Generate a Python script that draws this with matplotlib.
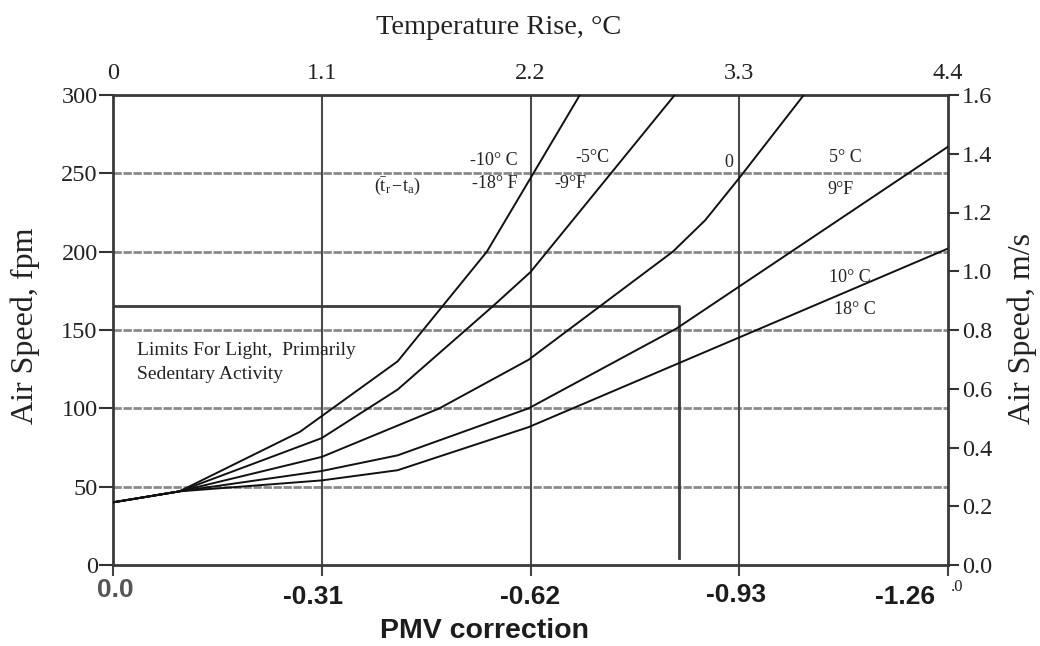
import matplotlib
matplotlib.use("Agg")
import matplotlib.pyplot as plt
from matplotlib.transforms import blended_transform_factory, ScaledTranslation

# ---- data -------------------------------------------------------------
temp_ticks = [0, 1.1, 2.2, 3.3, 4.4]                 # temperature rise, deg C
temp_tick_labels = ["0", "1.1", "2.2", "3.3", "4.4"]
pmv_labels = ["0.0", "-0.31", "-0.62", "-0.93", "-1.26"]
fpm_ticks = [0, 50, 100, 150, 200, 250, 300]
ms_ticks = [0.0, 0.2, 0.4, 0.6, 0.8, 1.0, 1.2, 1.4, 1.6]

# air speed (fpm) needed for each radiant/air temperature difference
t_m10 = [0, 0.35, 0.985, 1.5, 1.97, 2.46]
v_m10 = [40, 47, 85, 130, 200, 300]
t_m5 = [0, 0.35, 1.1, 1.5, 2.0, 2.2, 2.96]
v_m5 = [40, 47, 81, 112, 165, 187, 300]
t_0 = [0, 0.35, 1.1, 1.72, 2.19, 2.95, 3.12, 3.3, 3.64]
v_0 = [40, 47, 69, 100, 131, 200, 220, 247, 300]
t_p5 = [0, 0.35, 1.1, 1.5, 2.19, 2.97, 4.4]
v_p5 = [40, 47, 60, 70, 100, 151, 267]
t_p10 = [0, 0.35, 1.1, 1.5, 2.19, 4.4]
v_p10 = [40, 47, 54, 60.5, 88, 202]

limit_temp = 2.98      # deg C
limit_fpm = 165
limit_floor = 4.5

# ---- style ------------------------------------------------------------
SERIF = ["Liberation Serif", "DejaVu Serif"]
SANS = ["Liberation Sans", "DejaVu Sans"]
plt.rcParams["font.family"] = SERIF
plt.rcParams["mathtext.fontset"] = "custom"
plt.rcParams["mathtext.rm"] = "Liberation Serif"
plt.rcParams["mathtext.it"] = "Liberation Serif:italic"
TXT = "#222222"

W, H = 1040, 646
fig = plt.figure(figsize=(W / 100, H / 100), dpi=100)
ax = fig.add_axes([113 / W, 1 - 565 / H, (948 - 113) / W, (565 - 95) / H])
ax.set_xlim(temp_ticks[0], temp_ticks[-1])
ax.set_ylim(fpm_ticks[0], fpm_ticks[-1])

# grid
for v in fpm_ticks[1:-1]:
    ax.axhline(v, color="#8a8a8a", lw=2.0, ls=(0, (3, 0.6)), zorder=1)
for t in temp_ticks[1:-1]:
    ax.axvline(t, color="#4a4a4a", lw=1.5, zorder=1)

# curves
for tt, vv in [(t_m10, v_m10), (t_m5, v_m5), (t_0, v_0), (t_p5, v_p5), (t_p10, v_p10)]:
    ax.plot(tt, vv, color="#111111", lw=1.4, zorder=3, clip_on=True)

# comfort limit
ax.plot([0, limit_temp, limit_temp], [limit_fpm, limit_fpm, limit_floor],
        color="#3c3c3c", lw=2.0, zorder=2)

for s in ax.spines.values():
    s.set_color("#3a3a3a")
    s.set_linewidth(2.0)

# left axis
ax.set_yticks(fpm_ticks)
ax.set_yticklabels([str(v) for v in fpm_ticks])
ax.tick_params(axis="y", direction="out", length=10, width=1.5, color="#333333",
               labelsize=17.5, labelcolor=TXT, pad=1)
ax.set_ylabel("Air Speed, fpm", fontsize=23, color=TXT)
ax.yaxis.set_label_coords((25 - 113) / 835, (565 - 326) / 470)
ax.yaxis.label.set_va("center")

# bottom axis: PMV correction labels
ax.set_xticks(temp_ticks)
ax.set_xticklabels([])
ax.tick_params(axis="x", direction="out", length=8, width=1.5, color="#444444")
blend = blended_transform_factory(ax.transData, ax.transAxes)
label_shift = [(2, -25), (-9, -32), (0, -32), (-3, -30), (-43, -32)]
label_color = ["#555555", "#1c1c1c", "#1c1c1c", "#1c1c1c", "#1c1c1c"]
for t, lab, (dx, dy), c in zip(temp_ticks, pmv_labels, label_shift, label_color):
    ax.text(t, 0, lab, transform=blend + ScaledTranslation(dx / 100, dy / 100, fig.dpi_scale_trans),
            ha="center", va="center", fontsize=19, fontweight="bold",
            family=SANS, color=c)
fig.text(485 / W, 1 - 631 / H, "PMV correction", ha="center", va="center",
         fontsize=20.5, fontweight="bold", family=SANS, color="#1c1c1c")
fig.text(957 / W, 1 - 587 / H, ".0", ha="center", va="center", fontsize=12, color=TXT)

# top axis: temperature rise
top = ax.secondary_xaxis("top")
top.set_xticks(temp_ticks)
top.set_xticklabels(temp_tick_labels)
top.tick_params(axis="x", length=0, labelsize=17.5, labelcolor=TXT, pad=8)
top.spines["top"].set_visible(False)
fig.text(499 / W, 1 - 27 / H, "Temperature Rise, °C", ha="center", va="center",
         fontsize=20.5, color=TXT)

# right axis: m/s
ax2 = ax.twinx()
ax2.set_ylim(ms_ticks[0], ms_ticks[-1])
ax2.set_yticks(ms_ticks)
ax2.set_yticklabels([f"{v:.1f}" for v in ms_ticks])
ax2.tick_params(axis="y", direction="out", length=8, width=1.5, color="#333333",
                labelsize=17.5, labelcolor=TXT, pad=2)
for s in ax2.spines.values():
    s.set_visible(False)
ax2.set_ylabel("Air Speed, m/s", fontsize=23, color=TXT)
ax2.yaxis.set_label_coords((1022 - 113) / 835, (565 - 328) / 470)
ax2.yaxis.label.set_va("center")

# curve annotations
lab_kw = dict(fontsize=13, color=TXT, ha="center", va="center", zorder=4)
ax.text(2.008, 258.5, "-10° C", **lab_kw)
ax.text(2.013, 243.8, "-18° F", **lab_kw)
ax.text(1.497, 241.5, r"$(\bar{\mathrm{t}}_{\mathrm{r}}\,\mathrm{-t}_{\mathrm{a}})$", **lab_kw)
ax.text(2.529, 259.8, "-5°C", **lab_kw)
ax.text(2.408, 243.8, "-9°F", **lab_kw)
ax.text(3.246, 256.9, "0", **lab_kw)
ax.text(3.857, 260.4, "5° C", **lab_kw)
ax.text(3.831, 239.4, "9°F", **lab_kw)
ax.text(3.884, 183.2, "10° C", **lab_kw)
ax.text(3.91, 162.8, "18° C", **lab_kw)

note_kw = dict(fontsize=14, color=TXT, ha="left", va="center", zorder=4)
ax.text(0.126, 137.2, "Limits For Light,  Primarily", **note_kw)
ax.text(0.126, 121.9, "Sedentary Activity", **note_kw)

fig.savefig("out.png", dpi=100)
